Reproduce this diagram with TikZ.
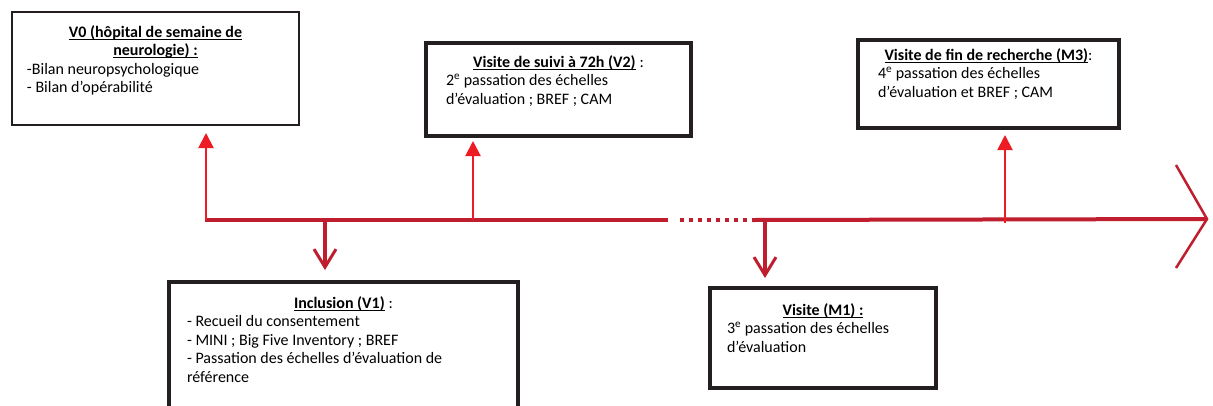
\documentclass[tikz,border=0pt]{standalone}
\usepackage{fontspec}
\setmainfont{Carlito}
\usetikzlibrary{arrows.meta,calc}
\definecolor{tl}{HTML}{BE1E2D}
\definecolor{upc}{HTML}{ED1C24}
\definecolor{bx}{HTML}{231F20}
\newcommand\ulx[1]{\leavevmode\setbox0\hbox{#1}\rlap{\rule[-2.6pt]{\wd0}{1.1pt}}\box0}
\tikzset{
  thinbox/.style={draw=bx, line width=1.3pt, inner sep=0pt, outer sep=0pt, anchor=north west},
  thickbox/.style={draw=bx, line width=3.8pt, inner sep=0pt, outer sep=0pt, anchor=north west},
  txt/.style={anchor=base west, inner sep=0pt, outer sep=0pt, font=\fontsize{16}{18.6}\selectfont},
  timeline/.style={draw=tl, line width=4pt},
  uparr/.style={draw=upc, line width=2pt, -{Triangle[length=15pt,width=15pt]}},
  downarr/.style={draw=tl, line width=3.5pt, -{Straight Barb[length=18pt,width=22pt,line width=3pt]}},
}
\begin{document}
\begin{tikzpicture}[x=1pt,y=-1pt]
\useasboundingbox (0,0) rectangle (1213,405);
\fill[white] (0,0) rectangle (1213,405);

% boxes
\node[thinbox, minimum width=287pt, minimum height=113pt] (v0) at (12,12) {};
\node[thickbox, minimum width=265pt, minimum height=93pt] (v2) at (426,43) {};
\node[thickbox, minimum width=261pt, minimum height=88pt] (m3) at (858,40) {};
\node[thickbox, minimum width=349pt, minimum height=140pt] (v1) at (169,282) {};
\node[thickbox, minimum width=226pt, minimum height=100pt] (m1) at (710,288) {};

% texts
\node[txt] (v0t) at (27,37) {\parbox[t]{257pt}{{\centering\bfseries\ulx{V0 (hôpital de semaine de}\\\ulx{neurologie) :}\par}\raggedright
-Bilan neuropsychologique\\
- Bilan d’opérabilité}};
\node[txt] (v2t) at (446,67) {\parbox[t]{225pt}{{\centering\ulx{\bfseries Visite de suivi à 72h (V2)}\hspace{4pt}:\par}\raggedright
2\textsuperscript{e} passation des échelles\\
d’évaluation ; BREF ; CAM}};
\node[txt] (m3t) at (878,60) {\parbox[t]{221pt}{{\centering\ulx{\bfseries Visite de fin de recherche (M3)}:\par}\raggedright
4\textsuperscript{e} passation des échelles\\
d’évaluation et BREF ; CAM}};
\node[txt] (v1t) at (187,308) {\parbox[t]{313pt}{{\centering\ulx{\bfseries Inclusion (V1)}\hspace{4pt}:\par}\raggedright
- Recueil du consentement\\
- MINI ; Big Five Inventory ; BREF\\
- Passation des échelles d’évaluation de\\
référence}};
\node[txt] (m1t) at (727,315) {\parbox[t]{192pt}{{\centering\ulx{\bfseries Visite (M1) :}\par}\raggedright
3\textsuperscript{e} passation des échelles\\
d’évaluation}};

% timeline
\coordinate (a0) at (206,220);
\coordinate (a0l) at (205,220);
\coordinate (a1) at (325,220);
\coordinate (a2) at (473,220);
\coordinate (s1) at (668,220);
\coordinate (d0) at (680,220);
\coordinate (d1) at (753,220);
\coordinate (a3) at (765,220);
\coordinate (a4) at (1005,223);
\coordinate (tip) at (1207,219);
\coordinate (ch1) at (1176,165);
\coordinate (ch2) at (1176,268);

\draw[timeline] (a0l) -- (s1);
\draw[timeline, dash pattern=on 4pt off 5pt] (d0) -- (d1);
\draw[timeline] (d1) -- (tip);
\draw[draw=tl, line width=2.5pt] (ch1) -- (tip) -- (ch2);

% up arrows
\draw[uparr, shorten >=8pt] (a0) -- (a0 |- v0.south);
\draw[uparr, shorten >=5pt] (a2) -- (a2 |- v2.south);
\draw[uparr, shorten >=7pt] (a4) -- (a4 |- m3.south);

% down arrows
\draw[downarr, shorten >=12pt] (a1) -- (a1 |- v1.north);
\draw[downarr, shorten >=10pt] (a3) -- (a3 |- m1.north);
\end{tikzpicture}
\end{document}
